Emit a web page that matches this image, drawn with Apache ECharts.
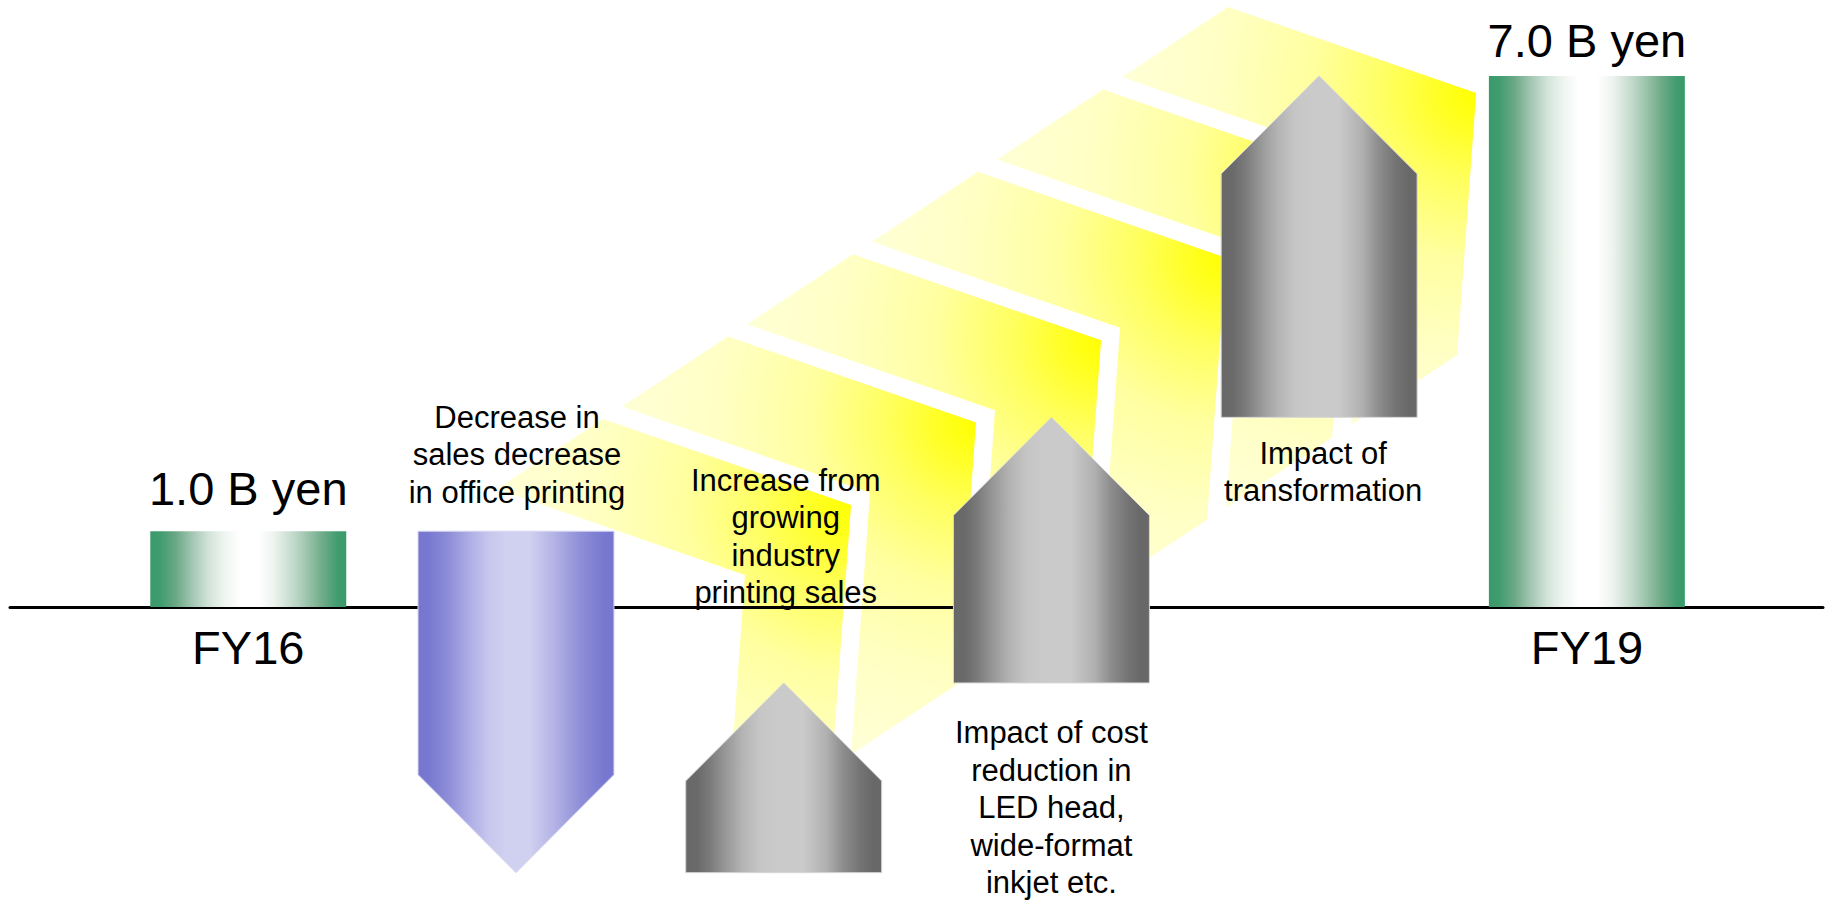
<!DOCTYPE html>
<html>
<head>
<meta charset="utf-8">
<script src="https://cdn.jsdelivr.net/npm/echarts@6/dist/echarts.min.js"></script>
<style>
html,body{margin:0;padding:0;background:#ffffff;}
#chart{width:1830px;height:903px;}
</style>
</head>
<body>
<div id="chart"></div>
<script>
// ---------------- DATA ----------------
const categories = ['FY16', 'Decrease', 'Industry', 'CostReduction', 'Transformation', 'FY19'];
const axisLabels = ['FY16', '', '', '', '', 'FY19'];
const notes = [
  '',
  'Decrease in\nsales decrease\nin office printing',
  'Increase from\ngrowing\nindustry\nprinting sales',
  'Impact of cost\nreduction in\nLED head,\nwide-format\ninkjet etc.',
  'Impact of\ntransformation',
  ''
];
const kinds = ['total', 'down', 'up', 'up', 'up', 'total'];
const startValues = [0, 1.0, -3.5, -1.0, 2.5, 0];
const endValues = [1.0, -3.5, -1.0, 2.5, 7.0, 7.0];
const valueUnit = ' B yen';

// ---------------- LAYOUT / STYLE ----------------
const BAR_RATIO = 0.732;
const NOTE_FONT = 31, NOTE_LINE = 37.5;
const BIG_FONT = 47;
const noteLayout = [null,
  {side: 'above', gap: 20, dx: 1},
  {side: 'above', gap: 71.5, dx: 2},
  {side: 'below', gap: 31, dx: 0},
  {side: 'below', gap: 17, dx: 4},
  null];
const valueLabelGap = [42.5, null, null, null, null, 35];
const catLabelGap = 40.5;

// decorative yellow ribbon (in axis units)
const RIBBON = {
  count: 6,
  from: [0.929, 1.556],
  to: [3.264, 6.985],
  v: [0.396, 0.9225],
  u: [0.9264, -1.1334],
  w: [-0.071, -3.4528]
};

function stops(arr) { return arr.map(a => ({offset: a[0], color: a[1]})); }
const palettes = {
  total: {stroke: null, stops: stops([[0,'#3a9a6a'],[0.05,'#3f9c6e'],[0.13,'#6aa885'],[0.21,'#a0c5b0'],[0.3,'#d3e4da'],[0.38,'#eff5f1'],[0.46,'#ffffff'],[0.55,'#ffffff'],[0.63,'#eef4f0'],[0.75,'#b8d4c3'],[0.88,'#6fab88'],[0.96,'#3f9c6e'],[1,'#3a9a6a']])},
  up: {stroke: '#d6d6d6', stops: stops([[0,'#686868'],[0.06,'#6a6a6a'],[0.12,'#7a7a7a'],[0.21,'#9a9a9a'],[0.29,'#b4b4b4'],[0.38,'#c6c6c6'],[0.46,'#cacaca'],[0.6,'#cacaca'],[0.72,'#b0b0b0'],[0.8,'#8e8e8e'],[0.89,'#747474'],[0.96,'#686868'],[1,'#686868']])},
  down: {stroke: '#d8d8f2', stops: stops([[0,'#7676d0'],[0.05,'#7878d0'],[0.15,'#8c8cd8'],[0.27,'#b0b0e6'],[0.37,'#c8c8ee'],[0.45,'#d0d0f0'],[0.57,'#d0d0f0'],[0.69,'#b4b4e6'],[0.83,'#8e8ed8'],[0.95,'#7878d0'],[1,'#7676d0']])}
};
const ribbonStops = stops([[0,'#ffff00'],[0.08,'#ffff1c'],[0.25,'#ffff62'],[0.45,'#ffffa0'],[0.7,'#ffffc4'],[1,'#ffffda']]);

// ---------------- RENDERERS ----------------
function add(a, b) { return [a[0] + b[0], a[1] + b[1]]; }

function renderRibbon(params, api) {
  const k = api.value(0);
  const t = k / (RIBBON.count - 1);
  const T = [RIBBON.from[0] + (RIBBON.to[0] - RIBBON.from[0]) * t,
             RIBBON.from[1] + (RIBBON.to[1] - RIBBON.from[1]) * t];
  const P = add(T, RIBBON.v);
  const R = add(P, RIBBON.u);
  const BR = add(R, RIBBON.w);
  const I = add(T, RIBBON.u);
  const BL = add(I, RIBBON.w);
  const pts = [T, P, R, BR, BL, I].map(p => api.coord(p));
  const rc = api.coord(R);
  return {
    type: 'polygon',
    shape: {points: pts},
    style: {fill: new echarts.graphic.RadialGradient(rc[0], rc[1], 370, ribbonStops, true)}
  };
}

function renderBar(params, api) {
  const i = api.value(0);
  const s = api.value(1), e = api.value(2);
  const cx = api.coord([i, 0])[0];
  const hw = api.size([BAR_RATIO, 0])[0] / 2;
  const ys = api.coord([i, s])[1], ye = api.coord([i, e])[1];
  const kind = kinds[i];
  let pts;
  if (kind === 'total') {
    pts = [[cx - hw, ys], [cx - hw, ye], [cx + hw, ye], [cx + hw, ys]];
  } else if (kind === 'up') {
    pts = [[cx - hw, ys], [cx - hw, ye + hw], [cx, ye], [cx + hw, ye + hw], [cx + hw, ys]];
  } else {
    pts = [[cx - hw, ys], [cx - hw, ye - hw], [cx, ye], [cx + hw, ye - hw], [cx + hw, ys]];
  }
  const pal = palettes[kind];
  const style = {fill: new echarts.graphic.LinearGradient(cx - hw, 0, cx + hw, 0, pal.stops, true)};
  if (pal.stroke) { style.stroke = pal.stroke; style.lineWidth = 1; }
  return {type: 'polygon', shape: {points: pts}, style: style};
}

function renderLabels(params, api) {
  const i = api.value(0);
  const s = api.value(1), e = api.value(2);
  const cx = api.coord([i, 0])[0];
  const y0 = api.coord([i, 0])[1];
  const children = [];
  if (kinds[i] === 'total') {
    const yt = api.coord([i, e])[1];
    children.push({type: 'text', x: cx, y: yt - valueLabelGap[i], style: {
      text: e.toFixed(1) + valueUnit, fontFamily: 'Liberation Sans, Arial, sans-serif', fontSize: BIG_FONT,
      fill: '#000', align: 'center', verticalAlign: 'middle', lineHeight: BIG_FONT}});
    children.push({type: 'text', x: cx, y: y0 + catLabelGap, style: {
      text: axisLabels[i], fontFamily: 'Liberation Sans, Arial, sans-serif', fontSize: BIG_FONT,
      fill: '#000', align: 'center', verticalAlign: 'middle', lineHeight: BIG_FONT}});
  } else {
    const lay = noteLayout[i];
    const yHi = api.coord([i, Math.max(s, e)])[1];
    const yLo = api.coord([i, Math.min(s, e)])[1];
    const y = lay.side === 'above' ? yHi - lay.gap : yLo + lay.gap;
    children.push({type: 'text', x: cx + lay.dx, y: y, style: {
      text: notes[i], fontFamily: 'Liberation Sans, Arial, sans-serif', fontSize: NOTE_FONT,
      fill: '#000', align: 'center', verticalAlign: lay.side === 'above' ? 'bottom' : 'top',
      lineHeight: NOTE_LINE}});
  }
  return {type: 'group', children: children};
}

// ---------------- CHART ----------------
const items = categories.map((c, i) => [i, startValues[i], endValues[i]]);
const ribbonItems = Array.from({length: RIBBON.count}, (_, k) => [k]);

const chart = echarts.init(document.getElementById('chart'), null, {renderer: 'svg', width: 1830, height: 903});
chart.setOption({
  animation: false,
  backgroundColor: '#ffffff',
  grid: {left: 10, right: 7, top: 0, bottom: 0, containLabel: false},
  xAxis: {
    type: 'value', min: -0.890, max: 5.882, z: 1,
    axisLine: {show: true, onZero: true, lineStyle: {color: '#000', width: 3}},
    axisTick: {show: false}, axisLabel: {show: false}, splitLine: {show: false}
  },
  yAxis: {
    type: 'value', min: -3.9, max: 8.0,
    axisLine: {show: false}, axisTick: {show: false}, axisLabel: {show: false}, splitLine: {show: false}
  },
  series: [
    {type: 'custom', name: 'ribbon', z: 0, silent: true, renderItem: renderRibbon, data: ribbonItems, encode: {x: 0}},
    {type: 'custom', name: 'bars', z: 2, renderItem: renderBar, data: items, encode: {x: 0, y: [1, 2]}},
    {type: 'custom', name: 'labels', z: 3, silent: true, renderItem: renderLabels, data: items, encode: {x: 0, y: [1, 2]}}
  ]
});
</script>
</body>
</html>
